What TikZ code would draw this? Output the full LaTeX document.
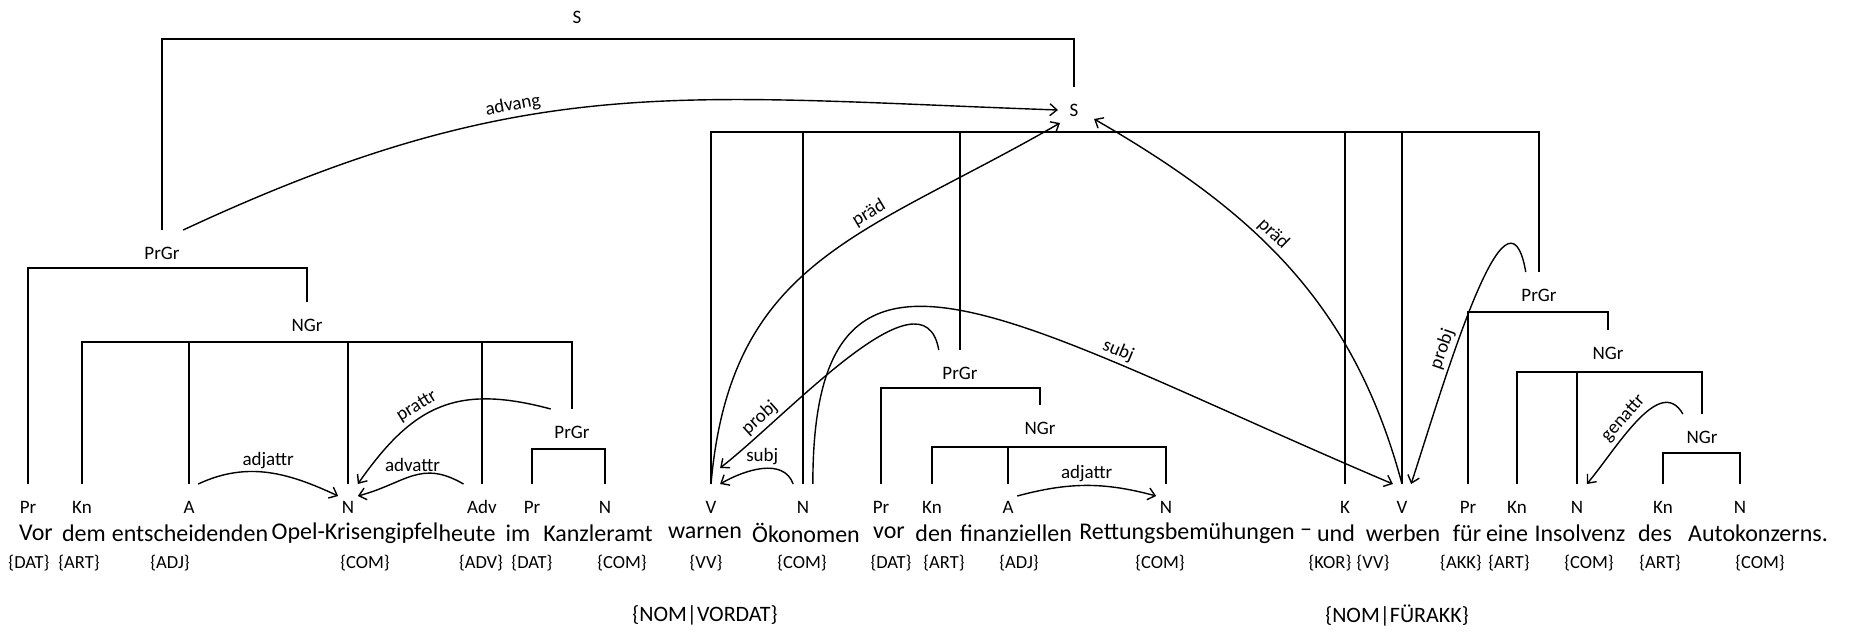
\documentclass[tikz,border=0pt]{standalone}
\usepackage{fontspec}
\setmainfont{Carlito}
\usetikzlibrary{arrows.meta}
\tikzset{>={Straight Barb[length=7pt,width=12pt]}}
\tikzset{
	catlab/.style={font=\fontsize{19}{19}\selectfont, inner xsep=3pt, inner ysep=0pt, text height=13pt, text depth=0pt, outer ysep=16.5pt, outer xsep=0.7pt},
	wordlab/.style={font=\fontsize{24}{24}\selectfont, inner sep=0pt},
	postag/.style={font=\fontsize{18.5}{18.5}\selectfont, inner sep=0pt},
	bigtag/.style={font=\fontsize{22}{22}\selectfont, inner sep=0pt},
	rellab/.style={font=\fontsize{19}{19}\selectfont, inner sep=3pt}
}

\begin{document}
\begin{tikzpicture}[x=1pt, y=1pt, line width=1.4pt]
	\useasboundingbox [fill=white] (0,0) rectangle (1849,637);

	\node (PR1) [catlab] at (28,130) {Pr};
	\node (KN1) [catlab] at (82,130) {Kn};
	\node (A1) [catlab] at (189,130) {A};
	\node (N1) [catlab] at (348,130) {N};
	\node (ADV1) [catlab] at (482,130) {Adv};
	\node (PR2) [catlab] at (532,130) {Pr};
	\node (N2) [catlab] at (605,130) {N};
	\node (V1) [catlab] at (711,130) {V};
	\node (N3) [catlab] at (803,130) {N};
	\node (PR3) [catlab] at (881,130) {Pr};
	\node (KN2) [catlab] at (932,130) {Kn};
	\node (A2) [catlab] at (1008,130) {A};
	\node (N4) [catlab] at (1166,130) {N};
	\node (K1) [catlab] at (1345,130) {K};
	\node (V2) [catlab] at (1402,130) {V};
	\node (PR4) [catlab] at (1468,130) {Pr};
	\node (KN3) [catlab] at (1517,130) {Kn};
	\node (N5) [catlab] at (1577,130) {N};
	\node (KN4) [catlab] at (1663,130) {Kn};
	\node (N6) [catlab] at (1740,130) {N};

	\node (W1) [wordlab] at (36,104) {Vor};
	\node (W2) [wordlab] at (84,104) {dem};
	\node (W3) [wordlab] at (190,104) {entscheidenden};
	\node (W4) [wordlab] at (355,104) {Opel-Krisengipfel};
	\node (W5) [wordlab] at (467,104) {heute};
	\node (W6) [wordlab] at (518,104) {im};
	\node (W7) [wordlab] at (598,104) {Kanzleramt};
	\node (W8) [wordlab] at (705,104) {warnen};
	\node (W9) [wordlab] at (806,104) {Ökonomen};
	\node (W10) [wordlab] at (889,104) {vor};
	\node (W11) [wordlab] at (934,104) {den};
	\node (W12) [wordlab] at (1016,104) {finanziellen};
	\node (W13) [wordlab] at (1187,104) {Rettungsbemühungen};
	\node (W14) [wordlab] at (1306,104) {–};
	\node (W15) [wordlab] at (1336,104) {und};
	\node (W16) [wordlab] at (1403,104) {werben};
	\node (W17) [wordlab] at (1467,104) {für};
	\node (W18) [wordlab] at (1507,104) {eine};
	\node (W19) [wordlab] at (1580,104) {Insolvenz};
	\node (W20) [wordlab] at (1655,104) {des};
	\node (W21) [wordlab] at (1758,104) {Autokonzerns.};

	\node (T1) [postag] at (29,74) {\{DAT\}};
	\node (T2) [postag] at (79,74) {\{ART\}};
	\node (T3) [postag] at (170,74) {\{ADJ\}};
	\node (T4) [postag] at (365,74) {\{COM\}};
	\node (T5) [postag] at (481,74) {\{ADV\}};
	\node (T6) [postag] at (532,74) {\{DAT\}};
	\node (T7) [postag] at (622,74) {\{COM\}};
	\node (T8) [postag] at (706,74) {\{VV\}};
	\node (T9) [postag] at (802,74) {\{COM\}};
	\node (T10) [postag] at (891,74) {\{DAT\}};
	\node (T11) [postag] at (944,74) {\{ART\}};
	\node (T12) [postag] at (1019,74) {\{ADJ\}};
	\node (T13) [postag] at (1160,74) {\{COM\}};
	\node (T14) [postag] at (1330,74) {\{KOR\}};
	\node (T15) [postag] at (1373,74) {\{VV\}};
	\node (T16) [postag] at (1461,74) {\{AKK\}};
	\node (T17) [postag] at (1509,74) {\{ART\}};
	\node (T18) [postag] at (1589,74) {\{COM\}};
	\node (T19) [postag] at (1660,74) {\{ART\}};
	\node (T20) [postag] at (1760,74) {\{COM\}};

	\node (VAL1) [bigtag] at (705,22) {\{NOM|VORDAT\}};
	\node (VAL2) [bigtag] at (1397,22) {\{NOM|FÜRAKK\}};

	\node (S1) [catlab] at (577,620) {S};
	\node (S2) [catlab] at (1074,527) {S};
	\node (PRGR1) [catlab] at (162,384) {PrGr};
	\node (NGR1) [catlab] at (307,312) {NGr};
	\node (PRGR2) [catlab] at (572,205) {PrGr};
	\node (PRGR3) [catlab] at (960,264) {PrGr};
	\node (NGR2) [catlab] at (1040,209) {NGr};
	\node (PRGR4) [catlab] at (1539,342) {PrGr};
	\node (NGR3) [catlab] at (1608,284) {NGr};
	\node (NGR4) [catlab] at (1702,200) {NGr};

	\coordinate (S1B) at ([yshift=-22pt]S1.center);
	\coordinate (S2B) at ([yshift=-22pt]S2.center);
	\coordinate (PRGR1B) at ([yshift=-15pt]PRGR1.center);
	\coordinate (NGR1B) at ([yshift=-17pt]NGR1.center);
	\coordinate (PRGR2B) at ([yshift=-17pt]PRGR2.center);
	\coordinate (PRGR3B) at ([yshift=-15pt]PRGR3.center);
	\coordinate (NGR2B) at ([yshift=-19pt]NGR2.center);
	\coordinate (PRGR4B) at ([yshift=-17pt]PRGR4.center);
	\coordinate (NGR3B) at ([yshift=-19pt]NGR3.center);
	\coordinate (NGR4B) at ([yshift=-16pt]NGR4.center);

	\path [draw] (PRGR1) |- (S1B) -| (S2);
	\path [draw] (V1) |- (S2B) -| (PRGR4);
	\path [draw] (N3) -- (N3 |- S2B);
	\path [draw] (PRGR3) -- (PRGR3 |- S2B);
	\path [draw] (K1) -- (K1 |- S2B);
	\path [draw] (V2) -- (V2 |- S2B);
	\path [draw] (PR1) |- (PRGR1B) -| (NGR1);
	\path [draw] (KN1) |- (NGR1B) -| (PRGR2);
	\path [draw] (A1) -- (A1 |- NGR1B);
	\path [draw] (N1) -- (N1 |- NGR1B);
	\path [draw] (ADV1) -- (ADV1 |- NGR1B);
	\path [draw] (PR2) |- (PRGR2B) -| (N2);
	\path [draw] (PR3) |- (PRGR3B) -| (NGR2);
	\path [draw] (KN2) |- (NGR2B) -| (N4);
	\path [draw] (A2) -- (A2 |- NGR2B);
	\path [draw] (PR4) |- (PRGR4B) -| (NGR3);
	\path [draw] (KN3) |- (NGR3B) -| (NGR4);
	\path [draw] (N5) -- (N5 |- NGR3B);
	\path [draw] (KN4) |- (NGR4B) -| (N6);

	\path [draw, ->] (PRGR1.north east) to [out=25, in=178, looseness=1.1] node [rellab, above, sloped, pos=0.38] {advang} ([xshift=-8pt]S2.west);
	\path [draw, ->] (V1.north) to [out=85, in=210, looseness=1.15] node [rellab, above, sloped, pos=0.64] {präd} ([shift={(-6pt,10pt)}]S2.south west);
	\path [draw, ->] (V2.north) to [out=105, in=-30] node [rellab, above, sloped, pos=0.58] {präd} ([shift={(12pt,14pt)}]S2.south east);
	\path [draw, ->] (N3.north east) to [out=90, in=157, out distance=300pt, in distance=420pt] node [rellab, above, sloped, pos=0.72] {subj} (V2.north west);
	\path [draw, ->] (N3.north west) to [out=110, in=30] node [rellab, above] {subj} (V1.north east);
	\path [draw, ->] (PRGR3.north west) to [out=100, in=38, looseness=0.9] node [rellab, above, sloped, pos=0.8] {probj} ([yshift=16pt]V1.north east);
	\path [draw, ->] ([xshift=8pt]PRGR4.north west) to [out=100, in=72, looseness=1.15] node [rellab, above, sloped, pos=0.65] {probj} (V2.north east);
	\path [draw, ->] (A1.north east) to [out=25, in=155] node [rellab, above] {adjattr} ([yshift=-12pt]N1.north west);
	\path [draw, ->] (ADV1.north west) to [out=150, in=15, looseness=1.2] node [rellab, above] {advattr} ([yshift=-12pt]N1.north east);
	\path [draw, ->] (PRGR2.north west) to [out=165, in=55, looseness=1.2] node [rellab, above, sloped, pos=0.6] {prattr} (N1.north east);
	\path [draw, ->] ([yshift=-12pt]A2.north east) to [out=15, in=165] node [rellab, above] {adjattr} ([yshift=-12pt]N4.north west);
	\path [draw, ->] (NGR4.north west) to [out=120, in=50] node [rellab, above, sloped, pos=0.55] {genattr} (N5.north east);
\end{tikzpicture}
\end{document}
